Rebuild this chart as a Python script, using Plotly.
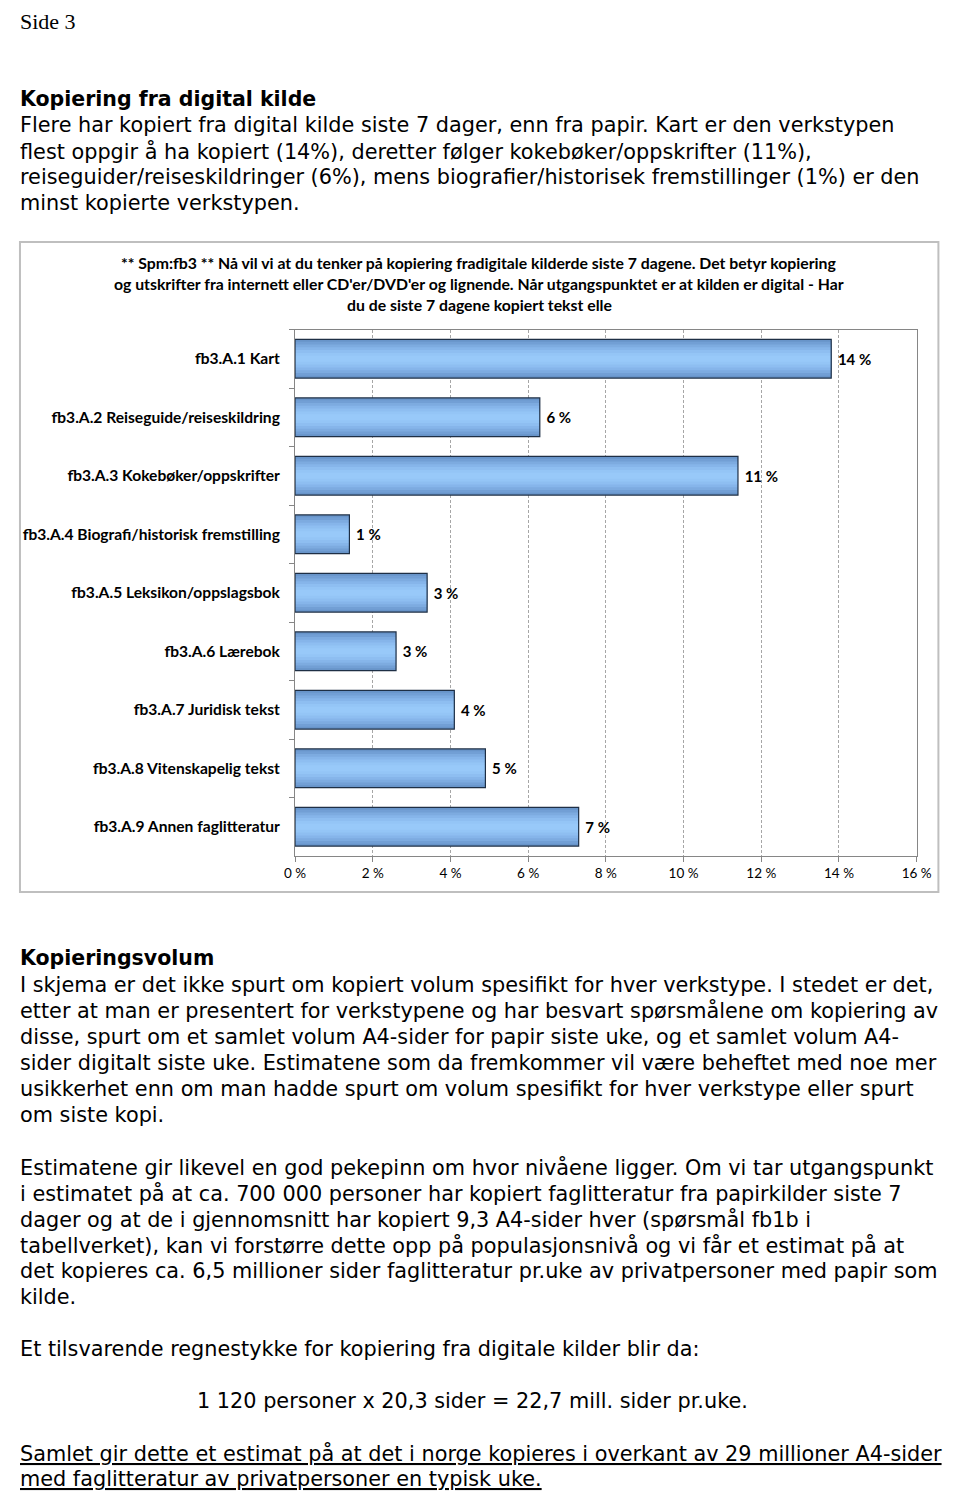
import plotly.graph_objects as go

# The html body adds an 8px margin, so page coordinates are shifted by it
PAGE_MARGIN = 8
W, H = 960, 1492

# ---------------- data ----------------
categories = [
    "fb3.A.1 Kart",
    "fb3.A.2 Reiseguide/reiseskildring",
    "fb3.A.3 Kokebøker/oppskrifter",
    "fb3.A.4 Biografi/historisk fremstilling",
    "fb3.A.5 Leksikon/oppslagsbok",
    "fb3.A.6 Lærebok",
    "fb3.A.7 Juridisk tekst",
    "fb3.A.8 Vitenskapelig tekst",
    "fb3.A.9 Annen faglitteratur",
]
values = [13.8, 6.3, 11.4, 1.4, 3.4, 2.6, 4.1, 4.9, 7.3]
value_labels = ["14 %", "6 %", "11 %", "1 %", "3 %", "3 %", "4 %", "5 %", "7 %"]
x_tick_vals = [0, 2, 4, 6, 8, 10, 12, 14, 16]
x_tick_text = ["0 %", "2 %", "4 %", "6 %", "8 %", "10 %", "12 %", "14 %", "16 %"]

chart_title_lines = [
    "** Spm:fb3 ** Nå vil vi at du tenker på kopiering fradigitale kilderde siste 7 dagene. Det betyr kopiering",
    "og utskrifter fra internett eller CD'er/DVD'er og lignende. Når utgangspunktet er at kilden er digital - Har",
    "du de siste 7 dagene kopiert tekst elle",
]

top_lines = [
    "Flere har kopiert fra digital kilde siste 7 dager, enn fra papir. Kart er den verkstypen",
    "flest oppgir å ha kopiert (14%), deretter følger kokebøker/oppskrifter (11%),",
    "reiseguider/reiseskildringer (6%), mens biografier/historisek fremstillinger (1%) er den",
    "minst kopierte verkstypen.",
]
para1 = [
    "I skjema er det ikke spurt om kopiert volum spesifikt for hver verkstype. I stedet er det,",
    "etter at man er presentert for verkstypene og har besvart spørsmålene om kopiering av",
    "disse, spurt om et samlet volum A4-sider for papir siste uke, og et samlet volum A4-",
    "sider digitalt siste uke. Estimatene som da fremkommer vil være beheftet med noe mer",
    "usikkerhet enn om man hadde spurt om volum spesifikt for hver verkstype eller spurt",
    "om siste kopi.",
]
para2 = [
    "Estimatene gir likevel en god pekepinn om hvor nivåene ligger. Om vi tar utgangspunkt",
    "i estimatet på at ca. 700 000 personer har kopiert faglitteratur fra papirkilder siste 7",
    "dager og at de i gjennomsnitt har kopiert 9,3 A4-sider hver (spørsmål fb1b i",
    "tabellverket), kan vi forstørre dette opp på populasjonsnivå og vi får et estimat på at",
    "det kopieres ca. 6,5 millioner sider faglitteratur pr.uke av privatpersoner med papir som",
    "kilde.",
]
para3 = "Et tilsvarende regnestykke for kopiering fra digitale kilder blir da:"
formula = "1 120 personer x 20,3 sider = 22,7 mill. sider pr.uke."
para4 = [
    "Samlet gir dette et estimat på at det i norge kopieres i overkant av 29 millioner A4-sider",
    "med faglitteratur av privatpersoner en typisk uke.",
]


def px_(p):
    """page x pixel -> paper fraction"""
    return (p - PAGE_MARGIN) / W


def py(p):
    """page y pixel -> paper fraction"""
    return 1 - (p - PAGE_MARGIN) / H


# ---------------- figure ----------------
fig = go.Figure()

bar_width = 0.66
# stacked layers of decreasing thickness imitate the vertical gradient fill
layers = [
    (1.00, "#6894C9"),
    (0.88, "#729FD5"),
    (0.74, "#7DABE0"),
    (0.60, "#86B5EA"),
    (0.45, "#8EBEF1"),
    (0.30, "#94C5F6"),
    (0.15, "#98C9F9"),
]
for frac, col in layers:
    fig.add_trace(go.Bar(
        y=categories, x=values, orientation="h", width=bar_width * frac,
        marker=dict(color=col, line=dict(width=0)),
        hoverinfo="skip", showlegend=False,
    ))
# outline + labels
fig.add_trace(go.Bar(
    y=categories, x=values, orientation="h", width=bar_width,
    marker=dict(color="rgba(0,0,0,0)", line=dict(color="#1E2F45", width=1.2)),
    text=["\u00a0" + t for t in value_labels], textposition="outside",
    textfont=dict(family="Lato", size=15, color="#000000", weight="bold"),
    cliponaxis=False, showlegend=False,
))

fig.update_layout(
    width=W, height=H,
    margin=dict(l=0, r=0, t=0, b=0),
    paper_bgcolor="white", plot_bgcolor="white",
    barmode="overlay",
    xaxis=dict(
        domain=[px_(291.7), px_(930.7)],
        range=[0, 16], tickvals=x_tick_vals, ticktext=x_tick_text,
        showgrid=True, gridcolor="#A6A6A6", gridwidth=1, griddash="3px,2px",
        zeroline=False, showline=True, linecolor="#868686", linewidth=1,
        mirror=True,
        ticks="outside", ticklen=5, tickcolor="#868686",
        tickfont=dict(family="Lato", size=13.5, color="#000000"),
        anchor="y",
    ),
    yaxis=dict(
        domain=[py(856), py(329.5)],
        autorange="reversed",
        categoryorder="array", categoryarray=categories,
        showgrid=False, zeroline=False,
        showline=True, linecolor="#868686", linewidth=1, mirror=True,
        ticks="outside", ticklen=5, tickcolor="#868686", tickson="boundaries",
        tickfont=dict(family="Lato", size=15.6, color="#000000", weight="bold"),
        ticklabelstandoff=11,
        anchor="x",
    ),
    font=dict(family="DejaVu Sans", color="#000000"),
)

# chart box
fig.add_shape(type="rect", xref="paper", yref="paper",
              x0=px_(9), x1=px_(953), y0=py(892), y1=py(242),
              line=dict(color="#BFBFBF", width=2), fillcolor="rgba(0,0,0,0)",
              layer="below")

annotations = []


def add_text(text, x, y, size, family="DejaVu Sans", bold=False, anchor="left",
             yanchor="middle"):
    t = f"<b>{text}</b>" if bold else text
    annotations.append(dict(
        text=t, x=max(px_(x), 0), y=min(py(y), 1), xref="paper", yref="paper",
        xanchor=anchor, yanchor=yanchor, showarrow=False, borderpad=0,
        font=dict(family=family, size=size, color="#000000"),
    ))


BODY = 20.8
add_text("Side 3", 0, 0, 22, family="Liberation Serif", yanchor="top")
add_text("Kopiering fra digital kilde", 0, 99, 20.5, bold=True)
for i, line in enumerate(top_lines):
    add_text(line, 0, 125 + 26 * i, BODY)

for i, line in enumerate(chart_title_lines):
    add_text(line, 481, 262 + 21 * i, 15.8, family="Lato", bold=True, anchor="center")

add_text("Kopieringsvolum", 0, 958, 20.5, bold=True)
for i, line in enumerate(para1):
    add_text(line, 0, 985 + 26 * i, BODY)
for i, line in enumerate(para2):
    add_text(line, 0, 1167 + 26 * i, BODY)
add_text(para3, 0, 1349, BODY)
add_text(formula, 190, 1401, BODY)
for i, line in enumerate(para4):
    add_text(f"<u>{line}</u>", 0, 1453 + 26 * i, BODY)

fig.update_layout(annotations=annotations)

fig.write_html("out.html")
